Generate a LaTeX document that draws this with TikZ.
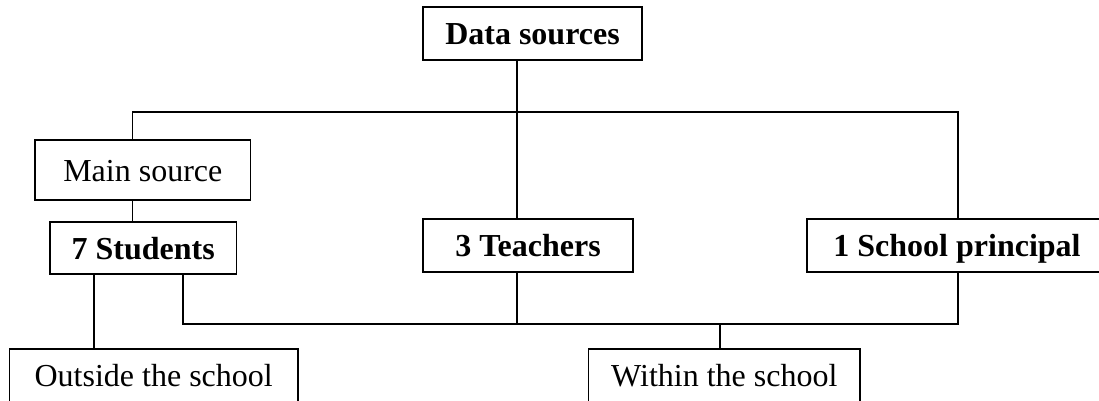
\documentclass[tikz,border=0pt]{standalone}
\usepackage{fontspec}
\setmainfont{Liberation Serif}
\begin{document}
\begin{tikzpicture}[x=1pt,y=-1pt,
  box/.style={draw,line width=1.6pt,inner sep=0pt,anchor=center,
    text height=22pt,text depth=0pt,
    font=\fontsize{32}{38}\selectfont},
  bbox/.style={box,font=\fontsize{32}{38}\selectfont\bfseries},
  conn/.style={line width=1.6pt}]
\useasboundingbox (0,0) rectangle (1099,400);
\clip (0,0) rectangle (1099,400);
\node[bbox,minimum width=219pt,minimum height=53pt] (ds) at (532.5,33.5) {Data sources};
\node[box,minimum width=215.5pt,minimum height=60pt] (ms) at (142.8,170) {Main source};
\node[bbox,minimum width=186.7pt,minimum height=52pt] (st) at (143.2,248) {7 Students};
\node[bbox,minimum width=210.5pt,minimum height=53pt] (te) at (528,245.5) {3 Teachers};
\node[bbox,minimum width=300pt,minimum height=53pt] (pr) at (957,245.5) {1 School principal};
\node[box,minimum width=288.5pt,minimum height=53pt] (out) at (153.7,375.5) {Outside the school};
\node[box,minimum width=271.4pt,minimum height=53pt] (wi) at (724.3,375.5) {Within the school};
\coordinate (jt) at (517,112);
\coordinate (jb) at (517,324);
\coordinate (jw) at (720,324);
\coordinate (xa) at (132.6,0);
\coordinate (xc) at (958,0);
\coordinate (xs) at (94,0);
\coordinate (xt) at (183,0);
\draw[conn] (ds.south -| jt) -- (te.north -| jt);
\draw[conn] (ms.north -| xa) |- (jt) -| (pr.north -| xc);
\draw[conn] (ms.south -| xa) -- (st.north -| xa);
\draw[conn] (st.south -| xs) -- (out.north -| xs);
\draw[conn] (st.south -| xt) |- (jb) -| (pr.south -| xc);
\draw[conn] (te.south -| jb) -- (jb);
\draw[conn] (jw) -- (wi.north -| jw);
\end{tikzpicture}
\end{document}
